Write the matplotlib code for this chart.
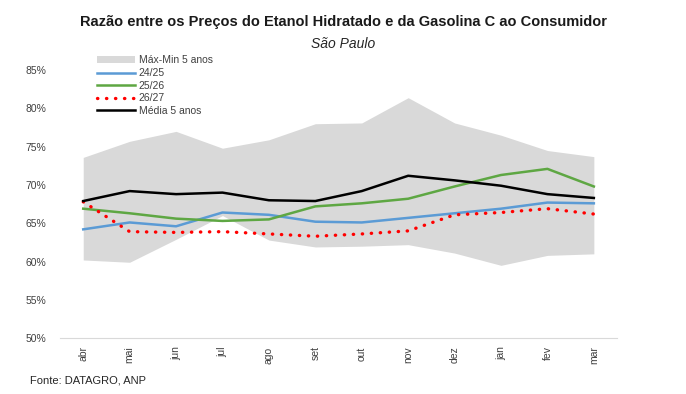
import numpy as np
import matplotlib.pyplot as plt
from matplotlib.patches import Patch
from matplotlib.lines import Line2D

months = ["abr", "mai", "jun", "jul", "ago", "set", "out", "nov", "dez", "jan", "fev", "mar"]

band_max = [73.6, 75.7, 77.0, 74.8, 75.9, 78.0, 78.1, 81.4, 78.1, 76.5, 74.5, 73.7]
band_min = [60.2, 59.9, 62.9, 66.0, 62.8, 61.9, 62.0, 62.2, 61.1, 59.5, 60.8, 61.0]
s_2425 = [64.2, 65.1, 64.6, 66.4, 66.1, 65.2, 65.1, 65.7, 66.3, 66.9, 67.7, 67.6]
s_2526 = [66.9, 66.3, 65.6, 65.3, 65.5, 67.2, 67.6, 68.2, 69.8, 71.3, 72.1, 69.8]
s_2627 = [67.8, 63.9, 63.8, 63.9, 63.6, 63.3, 63.6, 64.0, 66.1, 66.4, 66.9, 66.2]
media5 = [67.9, 69.2, 68.8, 69.0, 68.0, 67.9, 69.2, 71.2, 70.6, 69.9, 68.8, 68.3]

plt.rcParams['font.family'] = ['Liberation Sans', 'DejaVu Sans']

fig = plt.figure(figsize=(6.86, 3.94), dpi=100)
ax = fig.add_axes([0.0875, 0.142, 0.812, 0.680])

dots = (0, (0.1, 2.6))
x = np.arange(len(months))
ax.fill_between(x, band_min, band_max, color="#d9d9d9", linewidth=0)
ax.plot(x, s_2425, color="#5b9bd5", linewidth=1.8)
ax.plot(x, s_2526, color="#5ea743", linewidth=1.8)
ax.plot(x, s_2627, color="#ff0000", linewidth=2.4, linestyle=dots, dash_capstyle="round")
ax.plot(x, media5, color="black", linewidth=1.8)

ax.set_xlim(-0.5, 11.5)
ax.set_ylim(50, 85)
ax.set_yticks(np.arange(50, 86, 5))
ax.set_yticklabels([f"{v}%" for v in range(50, 86, 5)], fontsize=7.5, color="#404040")
ax.set_xticks(x)
ax.set_xticklabels(months, rotation=90, fontsize=7.5, color="#404040")
ax.tick_params(length=0, pad=6)
ax.tick_params(axis="y", pad=10)
for side in ["top", "right", "left"]:
    ax.spines[side].set_visible(False)
ax.spines["bottom"].set_color("#d9d9d9")

handles = [
    Patch(facecolor="#d9d9d9", edgecolor="none"),
    Line2D([], [], color="#5b9bd5", linewidth=1.8),
    Line2D([], [], color="#5ea743", linewidth=1.8),
    Line2D([], [], color="#ff0000", linewidth=2.4, linestyle=dots, dash_capstyle="round"),
    Line2D([], [], color="black", linewidth=1.8),
]
labels = ["Máx-Min 5 anos", "24/25", "25/26", "26/27", "Média 5 anos"]
ax.legend(handles, labels, loc="upper left", bbox_to_anchor=(0.05, 1.09), frameon=False,
          fontsize=7.5, handlelength=3.6, handleheight=0.6, labelspacing=0.25,
          handletextpad=0.4, labelcolor="#404040")

fig.text(0.5, 0.945, "Razão entre os Preços do Etanol Hidratado e da Gasolina C ao Consumidor",
         ha="center", va="center", fontsize=10.5, fontweight="bold", color="#1a1a1a")
fig.text(0.5, 0.888, "São Paulo", ha="center", va="center", fontsize=10, style="italic", color="#262626")
fig.text(0.044, 0.035, "Fonte: DATAGRO, ANP", ha="left", va="center", fontsize=8, color="#262626")

fig.savefig("out.png", dpi=100)
